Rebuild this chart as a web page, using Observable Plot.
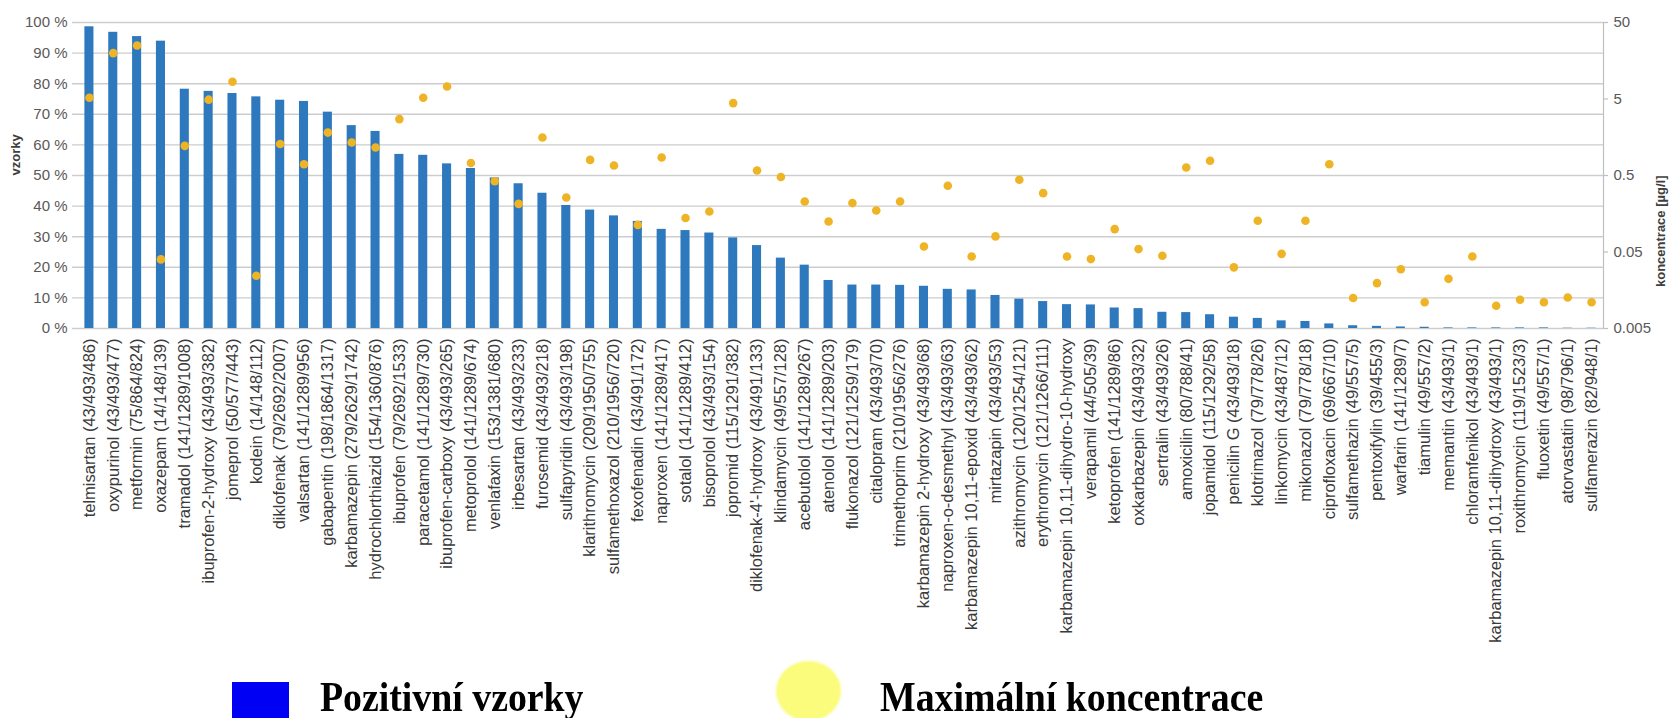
<!DOCTYPE html>
<html>
<head>
<meta charset="utf-8">
<script src="https://cdn.jsdelivr.net/npm/d3@7"></script>
<script src="https://cdn.jsdelivr.net/npm/@observablehq/plot@0.6"></script>
<style>
  html, body { margin: 0; padding: 0; background: #fff; overflow: hidden; }
  #page { position: relative; width: 1671px; height: 718px; }
  #chart { position: absolute; left: 0; top: 0; width: 1671px; height: 655px; }
  #chart svg { position: absolute; left: 0; top: 0; max-width: none; }
  .lg { position: absolute; }
  .lgtext { font-family: "Liberation Serif", "Times New Roman", serif; font-weight: bold; font-size: 42px; line-height: 42px; color: #000; transform: scaleX(0.9); transform-origin: left center; white-space: nowrap; }
</style>
</head>
<body>
<div id="page">
  <div id="chart"></div>
  <div class="lg" style="left:232px;top:682px;width:57px;height:40px;background:#0000f5;"></div>
  <div class="lg lgtext" style="left:320px;top:676px;">Pozitivní vzorky</div>
  <div class="lg" style="left:776px;top:661px;width:65px;height:60px;border-radius:50%;background:#fbfb7c;filter:blur(0.8px);"></div>
  <div class="lg lgtext" style="left:880px;top:676px;">Maximální koncentrace</div>
</div>
<script>
const drugs = [
  "telmisartan (43/493/486)",
  "oxypurinol (43/493/477)",
  "metformin (75/864/824)",
  "oxazepam (14/148/139)",
  "tramadol (141/1289/1008)",
  "ibuprofen-2-hydroxy (43/493/382)",
  "jomeprol (50/577/443)",
  "kodein (14/148/112)",
  "diklofenak (79/2692/2007)",
  "valsartan (141/1289/956)",
  "gabapentin (198/1864/1317)",
  "karbamazepin (279/2629/1742)",
  "hydrochlorthiazid (154/1360/876)",
  "ibuprofen (79/2692/1533)",
  "paracetamol (141/1289/730)",
  "ibuprofen-carboxy (43/493/265)",
  "metoprolol (141/1289/674)",
  "venlafaxin (153/1381/680)",
  "irbesartan (43/493/233)",
  "furosemid (43/493/218)",
  "sulfapyridin (43/493/198)",
  "klarithromycin (209/1950/755)",
  "sulfamethoxazol (210/1956/720)",
  "fexofenadin (43/491/172)",
  "naproxen (141/1289/417)",
  "sotalol (141/1289/412)",
  "bisoprolol (43/493/154)",
  "jopromid (115/1291/382)",
  "diklofenak-4'-hydroxy (43/491/133)",
  "klindamycin (49/557/128)",
  "acebutolol (141/1289/267)",
  "atenolol (141/1289/203)",
  "flukonazol (121/1259/179)",
  "citalopram (43/493/70)",
  "trimethoprim (210/1956/276)",
  "karbamazepin 2-hydroxy (43/493/68)",
  "naproxen-o-desmethyl (43/493/63)",
  "karbamazepin 10,11-epoxid (43/493/62)",
  "mirtazapin (43/493/53)",
  "azithromycin (120/1254/121)",
  "erythromycin (121/1266/111)",
  "karbamazepin 10,11-dihydro-10-hydroxy",
  "verapamil (44/505/39)",
  "ketoprofen (141/1289/86)",
  "oxkarbazepin (43/493/32)",
  "sertralin (43/493/26)",
  "amoxicilin (80/788/41)",
  "jopamidol (115/1292/58)",
  "penicilin G (43/493/18)",
  "klotrimazol (79/778/26)",
  "linkomycin (43/487/12)",
  "mikonazol (79/778/18)",
  "ciprofloxacin (69/667/10)",
  "sulfamethazin (49/557/5)",
  "pentoxifylin (39/455/3)",
  "warfarin (141/1289/7)",
  "tiamulin (49/557/2)",
  "memantin (43/493/1)",
  "chloramfenikol (43/493/1)",
  "karbamazepin 10,11-dihydroxy (43/493/1)",
  "roxithromycin (119/1523/3)",
  "fluoxetin (49/557/1)",
  "atorvastatin (98/796/1)",
  "sulfamerazin (82/948/1)"
];

// Pozitivní vzorky [%]
const positive = [
  98.6, 96.8, 95.4, 93.9, 78.2, 77.5, 76.8, 75.7, 74.6, 74.2,
  70.7, 66.3, 64.4, 56.9, 56.6, 53.8, 52.3, 49.2, 47.3, 44.2,
  40.2, 38.7, 36.8, 35.0, 32.4, 32.0, 31.2, 29.6, 27.1, 23.0,
  20.7, 15.7, 14.2, 14.2, 14.1, 13.8, 12.8, 12.6, 10.8, 9.6,
  8.8, 7.8, 7.7, 6.7, 6.5, 5.3, 5.2, 4.5, 3.7, 3.3,
  2.5, 2.3, 1.5, 0.9, 0.7, 0.5, 0.4, 0.2, 0.2, 0.2,
  0.2, 0.2, 0.1, 0.1
];

// Maximální koncentrace [µg/l]
const maxConc = [
  5.2, 19.9, 25, 0.04, 1.22, 4.9, 8.4, 0.0245, 1.29, 0.70,
  1.82, 1.35, 1.16, 2.73, 5.2, 7.3, 0.73, 0.42, 0.213, 1.57,
  0.258, 0.80, 0.676, 0.113, 0.86, 0.139, 0.169, 4.42, 0.58, 0.477,
  0.229, 0.125, 0.218, 0.174, 0.229, 0.059, 0.367, 0.0436, 0.08, 0.44,
  0.294, 0.0436, 0.0404, 0.0996, 0.0546, 0.0446, 0.637, 0.778, 0.0315, 0.128,
  0.0473, 0.128, 0.70, 0.0125, 0.0196, 0.0298, 0.011, 0.0223, 0.0436, 0.0099,
  0.0119, 0.011, 0.0127, 0.011
];

const pctTicks = [0, 10, 20, 30, 40, 50, 60, 70, 80, 90, 100];
const concTicks = [0.005, 0.05, 0.5, 5, 50];
const concTickLabels = ["0.005", "0.05", "0.5", "5", "50"];

const data = drugs.map((name, i) => ({name, pct: positive[i], conc: maxConc[i]}));
const concTickData = concTicks.map((v, i) => ({v, label: concTickLabels[i]}));

const W = 1671, H = 655;
const mL = 77, mR = 68;
const common = {
  width: W, height: H,
  marginLeft: mL, marginRight: mR, marginTop: 22, marginBottom: H - 328
};
const frameW = W - mL - mR;
const xOpts = {domain: drugs, paddingInner: 0.62, paddingOuter: 0.31, label: null};
const font = "'Liberation Sans', Arial, sans-serif";

const barsPlot = Plot.plot({
  ...common,
  style: {fontFamily: font, background: "transparent", overflow: "visible"},
  x: xOpts,
  y: {domain: [0, 100], label: null},
  marks: [
    Plot.ruleY(pctTicks, {insetLeft: -5, stroke: "#cdcdcd", strokeWidth: 1.4}),
    Plot.barY(data, {x: "name", y: "pct", fill: "#2e78bd"}),
    Plot.axisY({ticks: pctTicks, tickFormat: d => d + " %", tickSize: 0, tickPadding: 10, fontSize: 15, fill: "#595959", label: null}),
    Plot.axisX({tickRotate: -90, tickSize: 0, tickPadding: 10, fontSize: 16.5, fill: "#3a3a3a", label: null}),
    Plot.text(["vzorky"], {frameAnchor: "left", dx: -62, rotate: -90, fontWeight: "bold", fontSize: 13, fill: "#404040"})
  ]
});

const dotsPlot = Plot.plot({
  ...common,
  style: {fontFamily: font, background: "transparent", overflow: "visible"},
  x: {...xOpts, axis: null},
  y: {type: "log", domain: [0.005, 50], label: null, axis: null},
  marks: [
    Plot.frame({anchor: "right", stroke: "#bfbfbf", strokeWidth: 1.2}),
    Plot.ruleY(concTickData, {y: "v", insetLeft: frameW, insetRight: -5, stroke: "#bfbfbf", strokeWidth: 1.2}),
    Plot.dot(data, {x: "name", y: "conc", r: 4.3, fill: "#efb425"}),
    Plot.text(concTickData, {y: "v", text: "label", frameAnchor: "right", dx: 10, textAnchor: "start", fontSize: 15, fill: "#595959"}),
    Plot.text(["koncentrace [µg/l]"], {frameAnchor: "right", dx: 57, rotate: -90, fontWeight: "bold", fontSize: 13, fill: "#404040"})
  ]
});

const chart = document.getElementById("chart");
chart.appendChild(barsPlot);
chart.appendChild(dotsPlot);
</script>
</body>
</html>
